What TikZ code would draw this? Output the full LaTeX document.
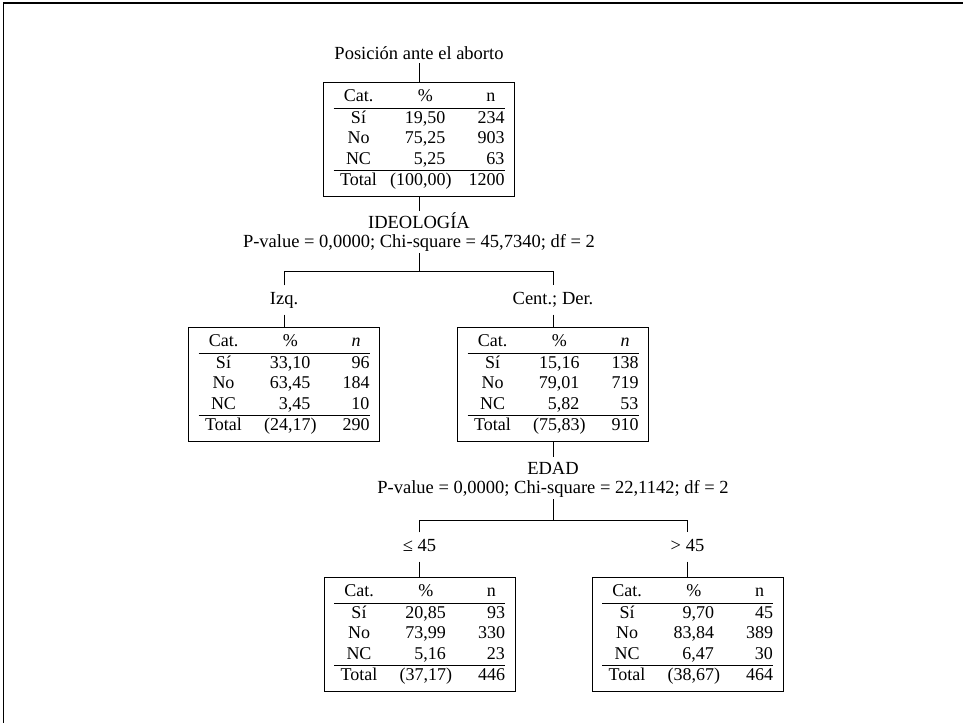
\documentclass[tikz,border=0pt]{standalone}
\usepackage{fontspec}
\setmainfont{Liberation Serif}
\usepackage{array}
\newcolumntype{C}[1]{>{\centering\arraybackslash}p{#1}}
\newcolumntype{R}[1]{>{\raggedleft\arraybackslash}p{#1}}
\setlength{\arrayrulewidth}{0.9pt}
\newcommand{\ptable}[9]{%
\begin{tabular}{@{}C{50pt}@{}R{62pt}@{}R{59pt}@{}}
Cat. & \makebox[2.25em]{\%} & \makebox[1.5em]{#1}\\ \hline
Sí & #2 & #3\\
No & #4 & #5\\
NC & #6 & #7\\ \hline
Total & (#8\rlap{)} & #9
\end{tabular}}
\tikzset{
  every node/.style={font=\fontsize{18.5}{20.5}\selectfont},
  tbox/.style={draw, line width=0.9pt, inner xsep=10pt, inner ysep=5pt, font=\fontsize{18}{20.5}\selectfont},
  lab/.style={inner sep=0pt, text height=12pt, text depth=4pt, minimum height=29pt},
  split/.style={align=center, inner sep=1.5pt, font=\fontsize{18.5}{19}\selectfont},
  conn/.style={line width=0.9pt}
}
\begin{document}
\begin{tikzpicture}[x=1pt,y=-1pt]
\useasboundingbox (0,0) rectangle (963,723);
\draw[line width=1.8pt] (3,3) -- (963,3);
\draw[line width=0.9pt] (3,3) -- (3,723);

\node (title) at (419,53) {Posición ante el aborto};
\node[tbox, anchor=north] (root) at (419,82) {\ptable{n}{19,50}{234}{75,25}{903}{5,25}{63}{100,00}{1200}};
\node[split] (s1) at (419,232) {IDEOLOGÍA\\P-value = 0,0000; Chi-square = 45,7340; df = 2};
\coordinate (j1) at (419,271);
\node[lab] (izq) at (284,300) {Izq.};
\node[lab] (cder) at (553,300) {Cent.; Der.};
\node[tbox, anchor=north] (left) at (284,327) {\ptable{\textit{n}}{33,10}{96}{63,45}{184}{3,45}{10}{24,17}{290}};
\node[tbox, anchor=north] (right) at (553,327) {\ptable{\textit{n}}{15,16}{138}{79,01}{719}{5,82}{53}{75,83}{910}};
\node[split] (s2) at (553,478) {EDAD\vphantom{Í}\\P-value = 0,0000; Chi-square = 22,1142; df = 2};
\coordinate (j2) at (553,520);
\node[lab] (le) at (419.5,547) {≤ 45};
\node[lab] (gt) at (687.5,547) {> 45};
\node[tbox, anchor=north] (bl) at (419.5,577) {\ptable{n}{20,85}{93}{73,99}{330}{5,16}{23}{37,17}{446}};
\node[tbox, anchor=north] (bro) at (687.5,577) {\ptable{n}{9,70}{45}{83,84}{389}{6,47}{30}{38,67}{464}};

\draw[conn] (title.south) -- (root.north);
\draw[conn] (root.south) -- (s1.north);
\draw[conn] (s1.south) -- (j1);
\draw[conn] (izq.north) -- (izq.north |- j1) -- (cder.north |- j1) -- (cder.north);
\draw[conn] (izq.south) -- (left.north);
\draw[conn] (cder.south) -- (right.north);
\draw[conn] (right.south) -- (s2.north);
\draw[conn] (s2.south) -- (j2);
\draw[conn] (le.north) -- (le.north |- j2) -- (gt.north |- j2) -- (gt.north);
\draw[conn] (le.south) -- (bl.north);
\draw[conn] (gt.south) -- (bro.north);
\end{tikzpicture}
\end{document}
